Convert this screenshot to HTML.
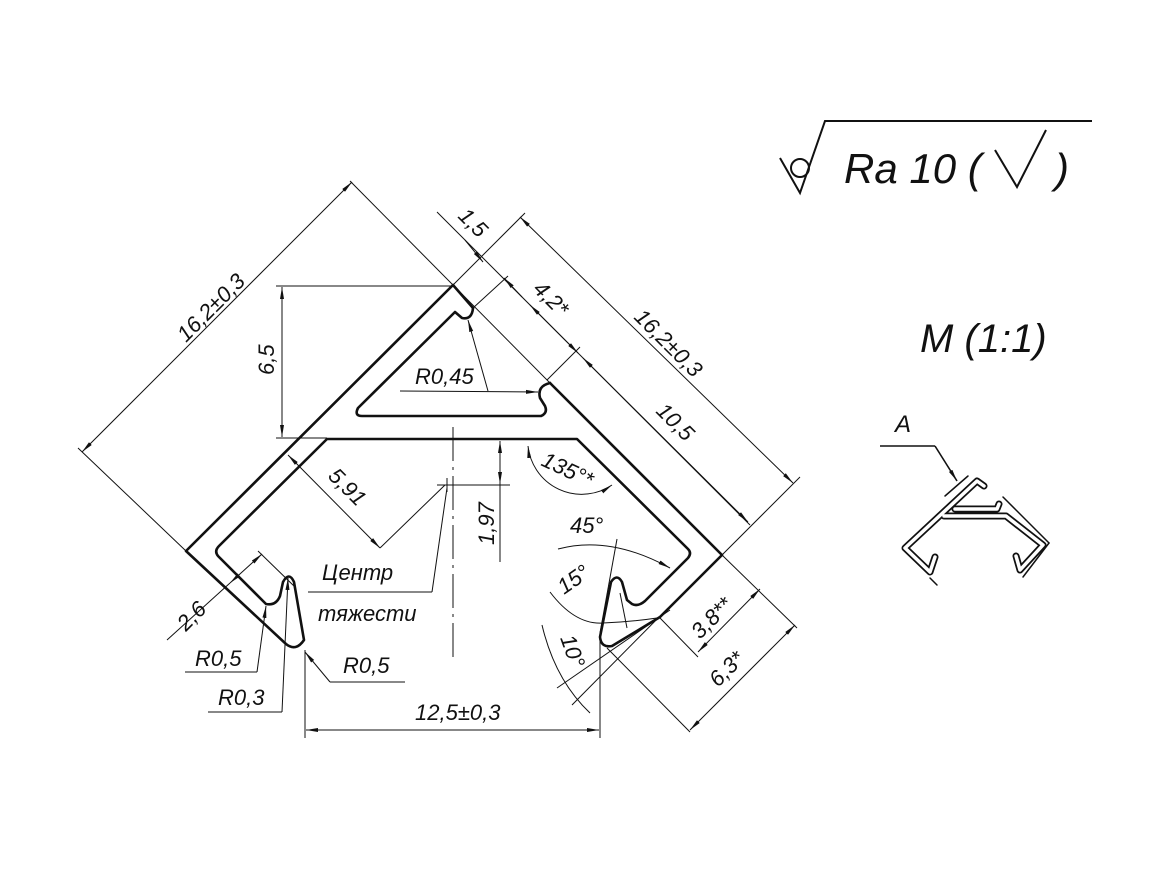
<!DOCTYPE html>
<html><head><meta charset="utf-8"><style>
html,body{margin:0;padding:0;background:#fff;}
svg{display:block;}
text{font-family:"Liberation Sans","DejaVu Sans",sans-serif;font-style:italic;fill:#111;}
</style></head><body>
<svg width="1164" height="884" viewBox="0 0 1164 884" xmlns="http://www.w3.org/2000/svg">
<defs>
<marker id="a" viewBox="0 0 12 6" refX="12" refY="3" markerWidth="12" markerHeight="6" orient="auto-start-reverse" markerUnits="userSpaceOnUse">
<path d="M0,1 L12,3 L0,5 Z" fill="#111"/></marker>
</defs>
<g fill="none" stroke="#111" stroke-width="2.6" stroke-linejoin="round" stroke-linecap="round">
<path d="M473,308 L453,285 L186,551 L286,644 Q296,652 304,640 L294,582 Q289,571 283,582 L280,596 Q276,606 266,604 L218,556 Q214,551 219,546 L327,439 L577,439 L688,549 Q692,553 688,558 L645,601 Q638,607 632,604 L627,600 L622,582 Q617,573 611,582 L600,637 Q601,648 612,646 L660,617 L722,555 L550,383"/>
<path d="M473,308 Q472,320 462,318 L455,312 L358,408 Q354,416 362,416 L541,416 Q548,413 545,406 L540,398 Q537,386 550,383"/>
</g>
<g fill="none" stroke="#111" stroke-width="1">
<line x1="350" y1="181" x2="550" y2="383"/>
<line x1="437" y1="212" x2="750" y2="525"/>
<line x1="78" y1="448" x2="186" y2="551"/>
<line x1="82" y1="452" x2="352" y2="182" marker-start="url(#a)" marker-end="url(#a)"/>
<line x1="453" y1="285" x2="525" y2="213"/>
<line x1="722" y1="555" x2="800" y2="477"/>
<line x1="520" y1="217" x2="793" y2="483" marker-start="url(#a)" marker-end="url(#a)"/>
<line x1="473" y1="308" x2="508" y2="276"/>
<line x1="547" y1="380" x2="580" y2="347"/>
<line x1="465" y1="240" x2="483" y2="262" marker-end="url(#a)"/>
<line x1="522" y1="297" x2="504" y2="278" marker-end="url(#a)"/>
<line x1="530" y1="305" x2="578" y2="353" marker-start="url(#a)" marker-end="url(#a)"/>
<line x1="583" y1="358" x2="748" y2="522" marker-start="url(#a)" marker-end="url(#a)"/>
<line x1="276" y1="286" x2="453" y2="286"/>
<line x1="276" y1="438" x2="327" y2="438"/>
<line x1="282" y1="287" x2="282" y2="437" marker-start="url(#a)" marker-end="url(#a)"/>
<line x1="288" y1="455" x2="380" y2="548" marker-start="url(#a)" marker-end="url(#a)"/>
<line x1="380" y1="548" x2="445" y2="485"/>
<line x1="437" y1="485" x2="510" y2="485"/>
<line x1="447" y1="478" x2="447" y2="492"/>
<line x1="453" y1="427" x2="453" y2="658" stroke-dasharray="34,6,3,6"/>
<line x1="447" y1="488" x2="432" y2="592"/>
<line x1="432" y1="592" x2="308" y2="592"/>
<line x1="500" y1="441" x2="500" y2="484" marker-start="url(#a)" marker-end="url(#a)"/>
<line x1="500" y1="484" x2="500" y2="562"/>
<path d="M528,446 A54,54 0 0 0 612,485" marker-start="url(#a)" marker-end="url(#a)"/>
<line x1="167" y1="640" x2="230" y2="583"/>
<line x1="230" y1="583" x2="262" y2="554" marker-start="url(#a)" marker-end="url(#a)"/>
<line x1="258" y1="551" x2="295" y2="587"/>
<line x1="257" y1="672" x2="266" y2="606" marker-end="url(#a)"/>
<line x1="257" y1="672" x2="185" y2="672"/>
<line x1="282" y1="712" x2="288" y2="578" marker-end="url(#a)"/>
<line x1="282" y1="712" x2="208" y2="712"/>
<line x1="330" y1="682" x2="305" y2="652" marker-end="url(#a)"/>
<line x1="330" y1="682" x2="405" y2="682"/>
<line x1="305" y1="650" x2="305" y2="738"/>
<line x1="600" y1="637" x2="600" y2="738"/>
<line x1="306" y1="730" x2="599" y2="730" marker-start="url(#a)" marker-end="url(#a)"/>
<path d="M558,549 Q610,535 670,568" marker-end="url(#a)"/>
<line x1="617" y1="539" x2="600" y2="633"/>
<path d="M550,592 Q575,625 603,623 Q630,622 657,618" />
<line x1="627" y1="628" x2="620" y2="593"/>
<path d="M542,625 Q555,680 590,713" />
<line x1="557" y1="688" x2="670" y2="610"/>
<line x1="572" y1="705" x2="668" y2="608"/>
<line x1="722" y1="555" x2="797" y2="628"/>
<line x1="660" y1="618" x2="698" y2="657"/>
<line x1="607" y1="648" x2="690" y2="732"/>
<line x1="698" y1="652" x2="760" y2="589" marker-start="url(#a)" marker-end="url(#a)"/>
<line x1="690" y1="730" x2="795" y2="625" marker-start="url(#a)" marker-end="url(#a)"/>
<line x1="488" y1="391" x2="468" y2="320" marker-end="url(#a)"/>
<line x1="400" y1="391" x2="538" y2="392" marker-end="url(#a)"/>
</g>
<g font-size="22">
<text transform="translate(186,343) rotate(-45)">16,2±0,3</text>
<text transform="translate(633,318) rotate(45)">16,2±0,3</text>
<text transform="translate(457,217) rotate(45)">1,5</text>
<text transform="translate(532,290) rotate(45)">4,2*</text>
<text transform="translate(655,412) rotate(45)">10,5</text>
<text transform="translate(274,375) rotate(-90)">6,5</text>
<text transform="translate(327,477) rotate(45)">5,91</text>
<text transform="translate(494,545) rotate(-90)">1,97</text>
<text transform="translate(540,465) rotate(25)">135°*</text>
<text x="415" y="384">R0,45</text>
<text x="322" y="580">Центр</text>
<text x="318" y="621">тяжести</text>
<text transform="translate(186,632) rotate(-45)">2,6</text>
<text x="195" y="666">R0,5</text>
<text x="218" y="705">R0,3</text>
<text x="343" y="673">R0,5</text>
<text x="415" y="720">12,5±0,3</text>
<text x="570" y="533">45°</text>
<text transform="translate(564,595) rotate(-35)">15°</text>
<text transform="translate(560,638) rotate(70)">10°</text>
<text transform="translate(700,640) rotate(-45)">3,8**</text>
<text transform="translate(718,688) rotate(-45)">6,3*</text>
</g>
<text x="920" y="352" font-size="40">M (1:1)</text>
<text x="844" y="183" font-size="42">Ra 10 (</text>
<text x="1055" y="183" font-size="42">)</text>
<g fill="none" stroke="#111" stroke-width="2">
<path d="M780,158 L800,193 L825,121 L1092,121"/>
<circle cx="800" cy="168" r="9"/>
<path d="M995,150 L1017,187 L1046,130"/>
</g>
<text x="895" y="432" font-size="24">A</text>
<g fill="none" stroke="#111" stroke-width="1.6">
<line x1="880" y1="446" x2="935" y2="446"/>
<line x1="935" y1="446" x2="957" y2="481" marker-end="url(#a)"/>
</g>
<g fill="none" stroke-linejoin="round" stroke-linecap="round">
<g stroke="#111" stroke-width="7">
<path d="M984,486 L977,481 L905,548 L930,572 L935,557"/>
<path d="M944,516 L1006,516 L1043,545 L1020,570 L1016,556"/>
<path d="M955,509 L997,509 L999,504"/>
</g>
<g stroke="#fff" stroke-width="3.5">
<path d="M984,486 L977,481 L905,548 L930,572 L935,557"/>
<path d="M944,516 L1006,516 L1043,545 L1020,570 L1016,556"/>
<path d="M955,509 L997,509 L999,504"/>
</g>
<g stroke="#111" stroke-width="1.5">
<line x1="945" y1="496" x2="968" y2="476"/>
<line x1="1003" y1="497" x2="1049" y2="543"/>
<line x1="1049" y1="543" x2="1023" y2="577"/>
<line x1="930" y1="578" x2="937" y2="585"/>
</g>
</g>
</svg>
</body></html>
